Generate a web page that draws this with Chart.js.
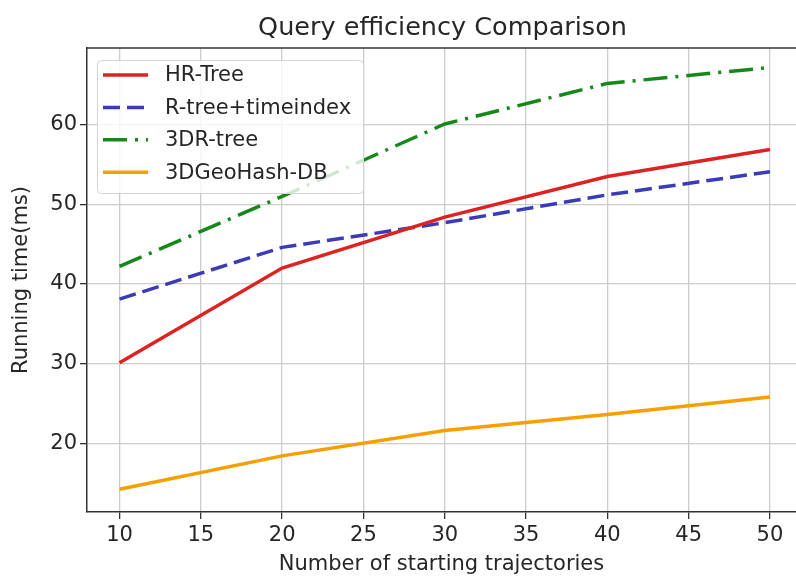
<!DOCTYPE html>
<html>
<head>
<meta charset="utf-8">
<script src="https://cdn.jsdelivr.net/npm/chart.js@4/dist/chart.umd.min.js"></script>
<style>
  html, body { margin: 0; padding: 0; background: #fff; }
  #chart { display: block; }
</style>
</head>
<body>
<canvas id="chart" width="796" height="578"></canvas>
<script>
const TITLE = "Query efficiency Comparison";
const X_LABEL = "Number of starting trajectories";
const Y_LABEL = "Running time(ms)";

const trajectories = [10, 20, 30, 40, 50];
const xTicks = [10, 15, 20, 25, 30, 35, 40, 45, 50];
const yTicks = [20, 30, 40, 50, 60];

const hrTree      = [30.1, 42.0, 48.4, 53.5, 56.9];
const rTreeTime   = [38.1, 44.6, 47.7, 51.2, 54.1];
const dr3Tree     = [42.2, 51.0, 60.1, 65.2, 67.2];
const geoHashDb   = [14.2, 18.4, 21.6, 23.6, 25.8];

const SERIES_NAMES = ["HR-Tree", "R-tree+timeindex", "3DR-tree", "3DGeoHash-DB"];

const FONT = "'DejaVu Sans', sans-serif";
const INK = "#262626";

function pts(ys){ return ys.map((y, i) => ({ x: trajectories[i], y })); }

// title, top spine and legend box drawn on top of the lines
const frameAndLegend = {
  id: "frameAndLegend",
  afterDatasetsDraw(chart){
    const { ctx, chartArea } = chart;
    ctx.save();
    // top spine
    ctx.strokeStyle = "#333";
    ctx.lineWidth = 1.5;
    ctx.beginPath();
    ctx.moveTo(chartArea.left, chartArea.top);
    ctx.lineTo(chartArea.right, chartArea.top);
    ctx.stroke();

    // legend
    const bx = 97, by = 60, bw = 266, bh = 133;
    ctx.fillStyle = "rgba(255,255,255,0.8)";
    ctx.strokeStyle = "#d4d4d4";
    ctx.lineWidth = 1;
    ctx.beginPath();
    ctx.roundRect(bx + 0.5, by + 0.5, bw, bh, 4);
    ctx.fill();
    ctx.stroke();

    ctx.font = "21px " + FONT;
    ctx.textBaseline = "middle";
    ctx.textAlign = "left";
    chart.data.datasets.forEach((ds, i) => {
      const y = 75 + i * 32.4;
      ctx.strokeStyle = ds.borderColor;
      ctx.lineWidth = ds.borderWidth;
      ctx.setLineDash(ds.borderDash || []);
      ctx.lineCap = "butt";
      ctx.beginPath();
      ctx.moveTo(103, y);
      ctx.lineTo(148, y);
      ctx.stroke();
      ctx.setLineDash([]);
      ctx.fillStyle = INK;
      ctx.fillText(ds.label, 165, y + 1);
    });
    ctx.restore();
  },
  afterDraw(chart){
    const { ctx, chartArea } = chart;
    ctx.save();
    ctx.font = "25.5px " + FONT;
    ctx.fillStyle = INK;
    ctx.textAlign = "center";
    ctx.textBaseline = "alphabetic";
    ctx.fillText(TITLE, (chartArea.left + chartArea.right) / 2 + 1, 35);
    ctx.restore();
  }
};

new Chart(document.getElementById("chart"), {
  type: "line",
  data: {
    datasets: [
      { label: SERIES_NAMES[0], data: pts(hrTree), borderColor: "#dd2222", borderWidth: 3.5 },
      { label: SERIES_NAMES[1], data: pts(rTreeTime), borderColor: "#3b3bb8", borderWidth: 3.5, borderDash: [17, 7] },
      { label: SERIES_NAMES[2], data: pts(dr3Tree), borderColor: "#16881a", borderWidth: 3.5, borderDash: [24, 8, 3, 8] },
      { label: SERIES_NAMES[3], data: pts(geoHashDb), borderColor: "#f5a000", borderWidth: 3.5 }
    ]
  },
  options: {
    responsive: false,
    devicePixelRatio: 1,
    animation: false,
    layout: { padding: { top: 48, left: 0, right: 0, bottom: 0 } },
    elements: { point: { radius: 0 }, line: { tension: 0, borderCapStyle: "butt" } },
    plugins: { legend: { display: false }, title: { display: false }, tooltip: { enabled: false } },
    scales: {
      x: {
        type: "linear",
        min: 8.0,
        max: 51.6,
        afterBuildTicks(scale){ scale.ticks = xTicks.map(v => ({ value: v })); },
        afterFit(scale){ scale.height = 66; },
        ticks: { color: INK, font: { family: FONT, size: 21 }, padding: 4, maxRotation: 0 },
        grid: { color: "#cccccc", lineWidth: 1.3, tickColor: "#333", tickLength: 7, tickWidth: 1.3 },
        border: { color: "#333", width: 1.5 },
        title: { display: true, text: X_LABEL, color: INK, font: { family: FONT, size: 21 }, padding: { top: 0, bottom: 1 } }
      },
      y: {
        type: "linear",
        min: 11.35,
        max: 69.65,
        afterBuildTicks(scale){ scale.ticks = yTicks.map(v => ({ value: v })); },
        afterFit(scale){ scale.width = 87; },
        ticks: { color: INK, font: { family: FONT, size: 21 }, padding: 3 },
        grid: { color: "#cccccc", lineWidth: 1.3, tickColor: "#333", tickLength: 7, tickWidth: 1.3 },
        border: { color: "#333", width: 1.5 },
        title: { display: true, text: Y_LABEL, color: INK, font: { family: FONT, size: 21 }, padding: { top: 9, bottom: 0 } }
      }
    }
  },
  plugins: [frameAndLegend]
});
</script>
</body>
</html>
